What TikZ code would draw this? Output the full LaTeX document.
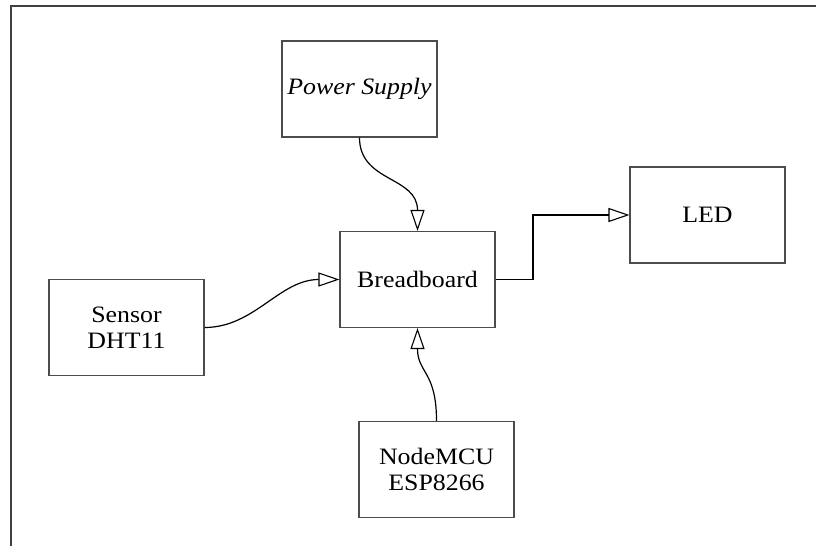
\documentclass[tikz,border=0pt]{standalone}
\usepackage{fontspec}
\setmainfont[FakeStretch=1.1]{Liberation Serif}
\usetikzlibrary{arrows.meta}
\begin{document}
\begin{tikzpicture}[x=1pt,y=-1pt,
  blockbox/.style={draw=black!70,line width=1.1pt,minimum width=155pt,minimum height=96pt,inner sep=0pt,align=center,
    font=\fontsize{23.5}{26}\selectfont},
  conn/.style={draw=black,line width=1.2pt,-{Triangle[open,length=21pt,width=14pt,line width=1.1pt]}}]
\useasboundingbox (0,0) rectangle (816,546);
\draw[line width=2pt,draw=black!75] (10.5,546) -- (10.5,6) -- (816,6);
\node[blockbox] (ps) at (359.5,89) {\itshape Power Supply};
\node[blockbox] (bb) at (417.5,279.5) {Breadboard};
\node[blockbox] (sen) at (126.5,327.5) {Sensor\\DHT11};
\node[blockbox] (led) at (707.5,215) {LED};
\node[blockbox] (mcu) at (436.5,469.5) {NodeMCU\\ESP8266};
\coordinate (bend) at (533,0);
\draw[conn] (ps.south) .. controls ++(0,45) and ++(0,-55) .. (bb.north);
\draw[conn] (sen.east) .. controls ++(50,0) and ++(-60,0) .. (bb.west);
\draw[conn] (mcu.north) .. controls ++(0,-50) and ++(0,45) .. (bb.south);
\draw[conn] (bb.east) -- (bb.east -| bend) |- (led.west);
\end{tikzpicture}
\end{document}
